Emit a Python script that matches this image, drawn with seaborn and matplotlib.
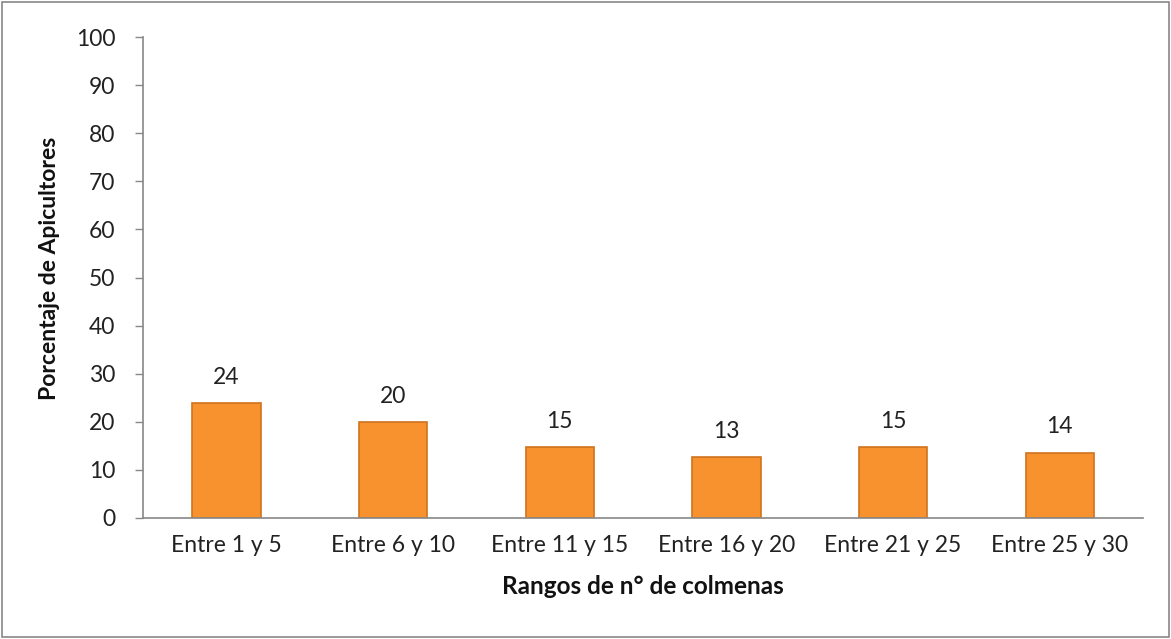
import matplotlib
matplotlib.use("Agg")
import matplotlib.pyplot as plt
import seaborn as sns
import pandas as pd
from matplotlib.patches import Rectangle

categorias = ["Entre 1 y 5", "Entre 6 y 10", "Entre 11 y 15", "Entre 16 y 20", "Entre 21 y 25", "Entre 25 y 30"]
porcentajes = [23.9, 19.9, 14.7, 12.6, 14.7, 13.6]
yticks = [0, 10, 20, 30, 40, 50, 60, 70, 80, 90, 100]

df = pd.DataFrame({"cat": categorias, "pct": porcentajes})

sns.set_theme(style="white")
plt.rcParams['font.family'] = ['Lato', 'DejaVu Sans']

fig = plt.figure(figsize=(11.71, 6.39), dpi=100)
ax = fig.add_axes([143/1171, 1-518/639, 1000/1171, 481/639])

sns.barplot(data=df, x="cat", y="pct", ax=ax, color="#F7922F", width=0.41,
            edgecolor="#D0731F", linewidth=1.2, saturation=1)

for c in ax.containers:
    ax.bar_label(c, labels=[f"{v:.0f}" for v in porcentajes], padding=11, fontsize=16.5, color="#222222")

ax.set_ylim(0, 100)
ax.set_yticks(yticks)
ax.set_xlim(-0.5, 5.5)
ax.tick_params(axis='y', labelsize=16.5, colors="#222222", length=6, width=1, color="#888888", direction='out', left=True, pad=14)
ax.tick_params(axis='x', labelsize=16.5, colors="#222222", length=0, pad=12)
for s in ["top", "right"]:
    ax.spines[s].set_visible(False)
for s in ["left", "bottom"]:
    ax.spines[s].set_color("#888888")
    ax.spines[s].set_linewidth(1.2)

ax.set_xlabel("Rangos de n° de colmenas", fontsize=17.5, fontweight="bold", color="#111111", labelpad=14)
ax.set_ylabel("Porcentaje de Apicultores", fontsize=16.5, fontweight="bold", color="#111111", labelpad=16)
ax.yaxis.set_label_coords(-0.083, 0.52)

fig.patches.append(Rectangle((0.002, 0.003), 0.996, 0.994, transform=fig.transFigure,
                             fill=False, edgecolor="#888888", linewidth=1.2))

fig.savefig("out.png", dpi=100)
